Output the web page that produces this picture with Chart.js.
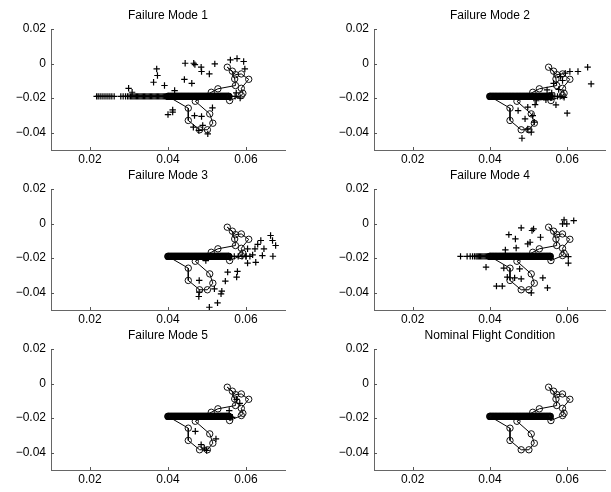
<!DOCTYPE html>
<html>
<head>
<meta charset="utf-8">
<script src="https://cdn.jsdelivr.net/npm/chart.js@4/dist/chart.umd.min.js"></script>
<style>
  html, body { margin: 0; padding: 0; background: #fff; }
  #wrap { position: relative; width: 611px; height: 492px; overflow: hidden; }
  #wrap canvas { position: absolute; }
</style>
</head>
<body>
<div id="wrap"></div>
<script>
// axis ticks shared by all six panels
const xTicks = [0.02, 0.04, 0.06];
const xTickLabels = ['0.02', '0.04', '0.06'];
const yTicks = [-0.04, -0.02, 0, 0.02];
const yTickLabels = ['\u22120.04', '\u22120.02', '0', '0.02'];

const titles = ['Failure Mode 1', 'Failure Mode 2', 'Failure Mode 3', 'Failure Mode 4', 'Failure Mode 5', 'Nominal Flight Condition'];

// nominal trajectory (circles joined by a line)
const nominalPath = [
    [0.0400, -0.0190], [0.0452, -0.0258], [0.0452, -0.0329], [0.0481, -0.0383], [0.0501, -0.0383],
    [0.0515, -0.0345], [0.0507, -0.0291], [0.0470, -0.0218], [0.0511, -0.0166], [0.0528, -0.0146],
    [0.0573, -0.0127], [0.0571, -0.0089], [0.0565, -0.0044], [0.0552, -0.0021], [0.0573, -0.0064],
    [0.0588, -0.0060], [0.0607, -0.0091], [0.0588, -0.0143], [0.0592, -0.0172], [0.0588, -0.0185],
    [0.0558, -0.0214], [0.0556, -0.0190]
];
// steady part of the nominal run: dense circles on one level
const bandLevel = -0.019;
const bandX = [0.0400, 0.0402, 0.0404, 0.0406, 0.0408, 0.0410, 0.0412, 0.0414, 0.0416, 0.0418,
    0.0420, 0.0422, 0.0424, 0.0426, 0.0428, 0.0430, 0.0432, 0.0434, 0.0436, 0.0438,
    0.0440, 0.0442, 0.0444, 0.0446, 0.0448, 0.0450, 0.0452, 0.0454, 0.0456, 0.0458,
    0.0460, 0.0462, 0.0464, 0.0466, 0.0468, 0.0470, 0.0472, 0.0474, 0.0476, 0.0478,
    0.0480, 0.0482, 0.0484, 0.0486, 0.0488, 0.0490, 0.0492, 0.0494, 0.0496, 0.0498,
    0.0500, 0.0502, 0.0504, 0.0506, 0.0508, 0.0510, 0.0512, 0.0514, 0.0516, 0.0518,
    0.0520, 0.0522, 0.0524, 0.0526, 0.0528, 0.0530, 0.0532, 0.0534, 0.0536, 0.0538,
    0.0540, 0.0542, 0.0544, 0.0546, 0.0548, 0.0550, 0.0552, 0.0554, 0.0556];

// failure mode samples (+)
const fm1Plus = [[0.0371, -0.0031], [0.0373, -0.0069], [0.0363, -0.0108], [0.0391, -0.0127], [0.0417, -0.0156],
    [0.0444, 0.0002], [0.0466, 0.0002], [0.0469, -0.0006], [0.0485, -0.0021], [0.0486, -0.0046],
    [0.0506, -0.0060], [0.0520, -0.0002], [0.0442, -0.0092], [0.0461, -0.0114], [0.0560, 0.0021],
    [0.0577, 0.0029], [0.0594, 0.0012], [0.0597, -0.0031], [0.0299, -0.0143], [0.0308, -0.0166],
    [0.0400, -0.0295], [0.0412, -0.0281], [0.0412, -0.0268], [0.0468, -0.0301], [0.0486, -0.0306],
    [0.0514, -0.0256], [0.0465, -0.0368], [0.0489, -0.0358], [0.0479, -0.0387], [0.0502, -0.0407],
    [0.0575, -0.0170], [0.0585, -0.0200]];
const fm1Band = [0.0217, 0.0221, 0.0226, 0.0231, 0.0236, 0.0241, 0.0246, 0.0251, 0.0256, 0.0262,
    0.0279, 0.0285, 0.0291, 0.0296, 0.0300, 0.0304, 0.0307, 0.0310, 0.0313, 0.0316,
    0.0319, 0.0322, 0.0325, 0.0328, 0.0331, 0.0334, 0.0337, 0.0340, 0.0343, 0.0346,
    0.0349, 0.0352, 0.0355, 0.0358, 0.0361, 0.0364, 0.0367, 0.0370, 0.0373, 0.0376,
    0.0379, 0.0382, 0.0385, 0.0388, 0.0391, 0.0394, 0.0397, 0.0400, 0.0430, 0.0460,
    0.0500, 0.0540, 0.0560, 0.0572];

const fm2Plus = [[0.0607, -0.0046], [0.0628, -0.0046], [0.0653, -0.0021], [0.0662, -0.0118], [0.0600, -0.0287],
    [0.0483, -0.0432], [0.0571, -0.0239], [0.0583, -0.0075], [0.0565, -0.0114], [0.0548, -0.0152],
    [0.0532, -0.0195], [0.0517, -0.0237], [0.0498, -0.0252], [0.0511, -0.0301], [0.0491, -0.0320],
    [0.0515, -0.0339], [0.0498, -0.0378], [0.0507, -0.0397], [0.0473, -0.0272], [0.0592, -0.0195],
    [0.0588, -0.0098], [0.0560, -0.0170], [0.0545, -0.0210], [0.0520, -0.0215], [0.0578, -0.0150],
    [0.0595, -0.0055]];
const fm2Band = [0.0480, 0.0500, 0.0520, 0.0540, 0.0560, 0.0568, 0.0575, 0.0582];

const fm3Plus = [[0.0663, -0.0069], [0.0668, -0.0098], [0.0676, -0.0127], [0.0638, -0.0098], [0.0646, -0.0146],
    [0.0623, -0.0146], [0.0604, -0.0146], [0.0617, -0.0181], [0.0642, -0.0185], [0.0669, -0.0189],
    [0.0625, -0.0224], [0.0604, -0.0229], [0.0578, -0.0277], [0.0553, -0.0281], [0.0576, -0.0310],
    [0.0547, -0.0333], [0.0538, -0.0391], [0.0536, -0.0407], [0.0527, -0.0459], [0.0506, -0.0484],
    [0.0480, -0.0397], [0.0479, -0.0422], [0.0519, -0.0378], [0.0480, -0.0329], [0.0489, -0.0195],
    [0.0497, -0.0214], [0.0630, -0.0120], [0.0600, -0.0190]];
const fm3Band = [0.0560, 0.0570, 0.0580, 0.0590, 0.0600, 0.0610];

const fm4Plus = [[0.0390, -0.0252], [0.0436, -0.0258], [0.0445, -0.0310], [0.0417, -0.0362], [0.0432, -0.0362],
    [0.0464, -0.0314], [0.0481, -0.0320], [0.0477, -0.0262], [0.0449, -0.0064], [0.0466, -0.0089],
    [0.0481, -0.0025], [0.0509, -0.0040], [0.0513, -0.0031], [0.0531, -0.0079], [0.0498, -0.0118],
    [0.0504, -0.0108], [0.0440, -0.0152], [0.0468, -0.0141], [0.0592, 0.0021], [0.0599, -0.0002],
    [0.0588, -0.0002], [0.0617, 0.0017], [0.0603, -0.0191], [0.0603, -0.0229], [0.0537, -0.0314],
    [0.0549, -0.0372], [0.0507, -0.0401]];
const fm4Band = [0.0324, 0.0341, 0.0349, 0.0355, 0.0360, 0.0364, 0.0367, 0.0370, 0.0373, 0.0376,
    0.0379, 0.0382, 0.0385, 0.0388, 0.0391, 0.0394, 0.0397, 0.0400, 0.0440, 0.0480,
    0.0520, 0.0556];

const fm5Plus = [[0.0557, -0.0156], [0.0565, -0.0195], [0.0584, -0.0114], [0.0576, -0.0092], [0.0523, -0.0320],
    [0.0485, -0.0353], [0.0470, -0.0276], [0.0499, -0.0387], [0.0493, -0.0374]];
const fm5Band = [0.0540, 0.0550, 0.0560];

const panelPlus = [fm1Plus, fm2Plus, fm3Plus, fm4Plus, fm5Plus, []];
const panelBand = [fm1Band, fm2Band, fm3Band, fm4Band, fm5Band, []];

const FONT = { family: '"Liberation Sans", Arial, Helvetica, sans-serif', size: 12 };

// draws titles above the axes and inward tick marks (matlab style)
const matlabAxes = {
    id: 'matlabAxes',
    afterDraw(chart, args, opts) {
        const { ctx, chartArea, scales } = chart;
        ctx.save();
        ctx.strokeStyle = '#555';
        ctx.lineWidth = 1;
        ctx.beginPath();
        xTicks.forEach(v => {
            const px = Math.round(scales.x.getPixelForValue(v)) + 0.5;
            ctx.moveTo(px, chartArea.bottom);
            ctx.lineTo(px, chartArea.bottom - 3);
        });
        yTicks.forEach(v => {
            const py = Math.round(scales.y.getPixelForValue(v)) + 0.5;
            ctx.moveTo(chartArea.left, py);
            ctx.lineTo(chartArea.left + 3, py);
        });
        ctx.stroke();
        ctx.fillStyle = '#000';
        ctx.font = `${FONT.size}px ${FONT.family}`;
        ctx.textAlign = 'center';
        ctx.textBaseline = 'middle';
        ctx.fillText(opts.text, (chartArea.left + chartArea.right) / 2, chartArea.top - 13);
        ctx.restore();
    }
};

// canvas placement per column / row
const cols = [
    { left: 0, width: 300, yAxisW: 51, padRight: 15 },
    { left: 305, width: 306, yAxisW: 69, padRight: 2 }
];
const rows = [
    { top: 0, height: 163, padTop: 29, xAxisH: 13 },
    { top: 163, height: 160, padTop: 26, xAxisH: 13 },
    { top: 323, height: 169, padTop: 26, xAxisH: 22 }
];

function toPoints(pairs) {
    return pairs.map(p => ({ x: p[0], y: p[1] }));
}

function makePanel(i) {
    const col = cols[i % 2];
    const row = rows[Math.floor(i / 2)];
    const canvas = document.createElement('canvas');
    canvas.width = col.width;
    canvas.height = row.height;
    canvas.style.left = col.left + 'px';
    canvas.style.top = row.top + 'px';
    canvas.style.width = col.width + 'px';
    canvas.style.height = row.height + 'px';
    document.getElementById('wrap').appendChild(canvas);

    const plusPts = toPoints(panelPlus[i]).concat(panelBand[i].map(x => ({ x, y: bandLevel })));

    new Chart(canvas.getContext('2d'), {
        type: 'scatter',
        data: {
            datasets: [
                {
                    label: 'samples',
                    data: plusPts,
                    pointStyle: 'cross',
                    pointRadius: 3.2,
                    borderColor: '#000',
                    borderWidth: 1.2,
                    showLine: false
                },
                {
                    label: 'band',
                    data: bandX.map(x => ({ x, y: bandLevel })),
                    pointStyle: 'circle',
                    pointRadius: 3,
                    backgroundColor: 'transparent',
                    borderColor: '#000',
                    borderWidth: 1.2,
                    showLine: false
                },
                {
                    label: 'nominal',
                    data: toPoints(nominalPath),
                    pointStyle: 'circle',
                    pointRadius: 3.2,
                    pointBackgroundColor: 'transparent',
                    pointBorderColor: '#111',
                    pointBorderWidth: 1,
                    borderColor: '#000',
                    borderWidth: 1,
                    showLine: true,
                    tension: 0
                }
            ]
        },
        options: {
            responsive: false,
            animation: false,
            events: [],
            layout: { padding: { top: row.padTop, right: col.padRight, left: 0, bottom: 0 } },
            plugins: {
                legend: { display: false },
                tooltip: { enabled: false },
                matlabAxes: { text: titles[i] }
            },
            scales: {
                x: {
                    type: 'linear',
                    min: 0.01,
                    max: 0.07,
                    afterBuildTicks: s => { s.ticks = xTicks.map(v => ({ value: v })); },
                    afterFit: s => { s.height = row.xAxisH; },
                    grid: { display: false, drawTicks: false },
                    border: { display: true, color: '#666', width: 1 },
                    ticks: {
                        color: '#000',
                        font: FONT,
                        padding: 2,
                        maxRotation: 0,
                        autoSkip: false,
                        callback: (v) => xTickLabels[xTicks.indexOf(v)]
                    }
                },
                y: {
                    type: 'linear',
                    min: -0.05,
                    max: 0.02,
                    afterBuildTicks: s => { s.ticks = yTicks.map(v => ({ value: v })); },
                    afterFit: s => { s.width = col.yAxisW; },
                    grid: { display: false, drawTicks: false },
                    border: { display: true, color: '#666', width: 1 },
                    ticks: {
                        color: '#000',
                        font: FONT,
                        padding: 5,
                        autoSkip: false,
                        callback: (v) => yTickLabels[yTicks.indexOf(v)]
                    }
                }
            }
        },
        plugins: [matlabAxes]
    });
}

for (let i = 0; i < 6; i++) makePanel(i);
</script>
</body>
</html>
